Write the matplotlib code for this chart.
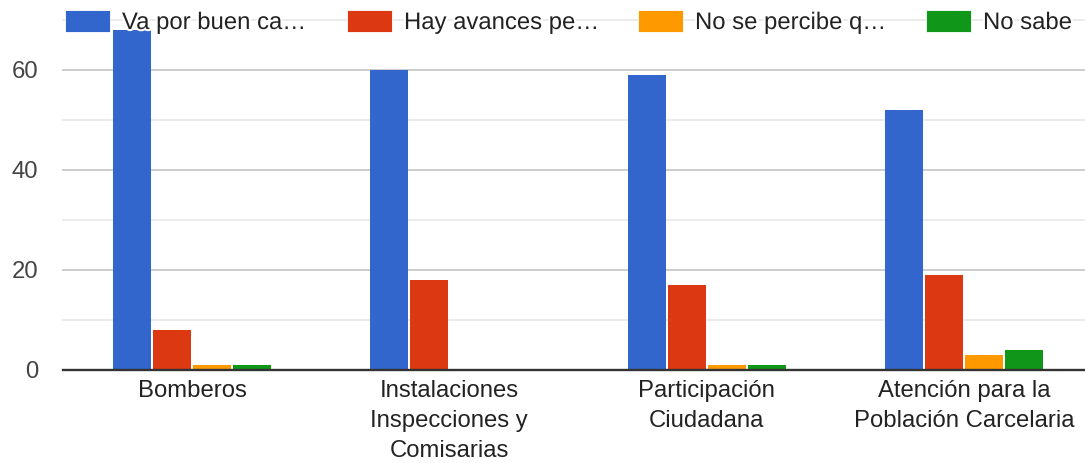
import matplotlib
matplotlib.use("Agg")
import matplotlib.pyplot as plt
import numpy as np
from matplotlib.patches import Rectangle
import matplotlib.patheffects as pe

categories = ["Bomberos",
              "Instalaciones\nInspecciones y\nComisarias",
              "Participación\nCiudadana",
              "Atención para la\nPoblación Carcelaria"]
series_labels = ["Va por buen ca…", "Hay avances pe…", "No se percibe q…", "No sabe"]
va_por_buen_camino = [68, 60, 59, 52]
hay_avances = [8, 18, 17, 19]
no_se_percibe = [1, 0, 1, 3]
no_sabe = [1, 0, 1, 4]
colors = ["#3366cc", "#dc3912", "#ff9900", "#109618"]
yticks_major = [0, 20, 40, 60]
yticks_minor = [10, 30, 50, 70]

plt.rcParams['font.family'] = ['Liberation Sans', 'DejaVu Sans']
FS = 17.2

W, H = 1085, 463
fig = plt.figure(figsize=(W / 100, H / 100), dpi=100)
ax = fig.add_axes([63 / W, 1 - 370 / H, (W - 63) / W, 350 / H])

series = [va_por_buen_camino, hay_avances, no_se_percibe, no_sabe]
x = np.arange(len(categories))
slot = 40 / 257.3
bw = 38 / 257.3
for i, vals in enumerate(series):
    ax.bar(x + (i - 1.5) * slot, vals, width=bw, color=colors[i], linewidth=0, zorder=3)

for v in yticks_major[1:]:
    ax.axhline(v, color="#cccccc", lw=1.4, zorder=1, clip_on=False)
for v in yticks_minor:
    ax.axhline(v, color="#ebebeb", lw=1.4, zorder=1, clip_on=False)
ax.axhline(0, color="#333333", lw=1.7, zorder=4, clip_on=False)

ax.set_xlim(-0.501, 3.47)
ax.set_ylim(0, 70)
for s in ax.spines.values():
    s.set_visible(False)
ax.set_yticks(yticks_major)
ax.set_yticklabels([str(v) for v in yticks_major])
ax.set_xticks(x)
ax.set_xticklabels(categories, linespacing=1.47)
ax.tick_params(axis='y', length=0, pad=18, labelsize=FS, labelcolor="#444444")
ax.tick_params(axis='x', length=0, pad=7, labelsize=FS, labelcolor="#222222")

# legend (top, fixed slots)
leg_x = [65, 347, 638, 926]
for i, lab in enumerate(series_labels):
    r = Rectangle((leg_x[i] / W, 1 - 32 / H), 45 / W, 22 / H,
                  transform=fig.transFigure, facecolor=colors[i],
                  edgecolor="white", linewidth=0.6, zorder=5)
    fig.add_artist(r)
    t = fig.text((leg_x[i] + 57) / W, 1 - 29 / H, lab, fontsize=FS,
                 color="#222222", va="baseline", ha="left", zorder=6)
    t.set_path_effects([pe.withStroke(linewidth=3, foreground="white")])

fig.savefig("out.png", dpi=100, facecolor="white")
